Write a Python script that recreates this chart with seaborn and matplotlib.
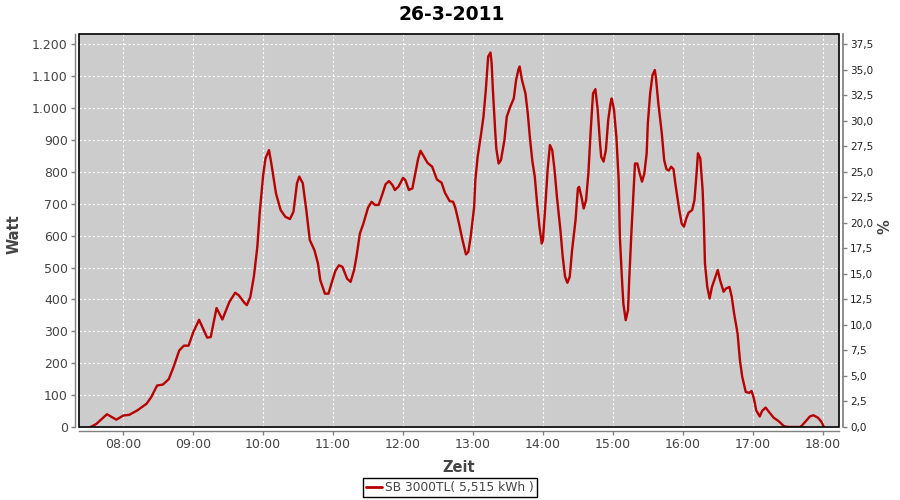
import matplotlib
matplotlib.use("Agg")
import matplotlib.pyplot as plt
import matplotlib.dates as mdates
from matplotlib.ticker import FuncFormatter, MultipleLocator
from matplotlib.patches import Rectangle
from matplotlib.lines import Line2D
import seaborn as sns
import pandas as pd

title = "26-3-2011"
series_name = "SB 3000TL( 5,515 kWh )"
x_label = "Zeit"
y_label = "Watt"
y2_label = "%"

times = [
    "07:32", "07:37", "07:46", "07:54", "08:00", "08:05", "08:12", "08:20", "08:24", "08:29",
    "08:34", "08:39", "08:43", "08:48", "08:52", "08:56", "09:00", "09:05", "09:08", "09:12",
    "09:15", "09:20", "09:25", "09:31", "09:36", "09:39", "09:44", "09:46", "09:49", "09:52",
    "09:55", "09:57", "10:00", "10:02", "10:05", "10:07", "10:11", "10:15", "10:19", "10:23",
    "10:26", "10:29", "10:31", "10:34", "10:37", "10:40", "10:44", "10:47", "10:49", "10:53",
    "10:56", "10:59", "11:02", "11:05", "11:08", "11:12", "11:15", "11:18", "11:20", "11:23",
    "11:26", "11:30", "11:33", "11:36", "11:39", "11:42", "11:45", "11:48", "11:51", "11:53",
    "11:56", "12:00", "12:02", "12:05", "12:08", "12:11", "12:13", "12:15", "12:18", "12:21",
    "12:25", "12:29", "12:33", "12:36", "12:40", "12:43", "12:45", "12:48", "12:51", "12:54",
    "12:56", "12:58", "13:01", "13:02", "13:04", "13:07", "13:09", "13:11", "13:13", "13:15",
    "13:16", "13:17", "13:19", "13:20", "13:22", "13:24", "13:27", "13:29", "13:32", "13:35",
    "13:37", "13:39", "13:40", "13:42", "13:45", "13:47", "13:49", "13:51", "13:53", "13:55",
    "13:57", "13:59", "14:00", "14:02", "14:04", "14:06", "14:08", "14:10", "14:12", "14:15",
    "14:17", "14:19", "14:21", "14:23", "14:25", "14:28", "14:30", "14:31", "14:33", "14:35",
    "14:37", "14:39", "14:41", "14:43", "14:45", "14:47", "14:49", "14:50", "14:52", "14:54",
    "14:56", "14:58", "14:59", "15:01", "15:03", "15:05", "15:06", "15:08", "15:09", "15:11",
    "15:13", "15:14", "15:16", "15:18", "15:19", "15:21", "15:23", "15:25", "15:27", "15:29",
    "15:30", "15:32", "15:34", "15:36", "15:37", "15:39", "15:42", "15:44", "15:46", "15:48",
    "15:50", "15:52", "15:54", "15:57", "15:59", "16:01", "16:03", "16:05", "16:08", "16:10",
    "16:12", "16:13", "16:15", "16:17", "16:18", "16:19", "16:21", "16:23", "16:25", "16:27",
    "16:30", "16:32", "16:35", "16:37", "16:40", "16:42", "16:44", "16:47", "16:49", "16:51",
    "16:54", "16:57", "16:59", "17:01", "17:03", "17:06", "17:08", "17:11", "17:14", "17:18",
    "17:22", "17:27", "17:31", "17:41", "17:45", "17:49", "17:52", "17:56", "17:59", "18:01",
]
watts = [
    0, 10, 40, 23, 36, 38, 52, 73, 94, 130,
    133, 150, 187, 240, 255, 255, 297, 336, 312, 280,
    282, 373, 337, 392, 421, 413, 389, 382, 408, 471,
    565, 670, 790, 842, 868, 826, 732, 680, 659, 652,
    675, 764, 785, 764, 680, 586, 554, 513, 460, 418,
    418, 455, 490, 507, 502, 465, 455, 492, 533, 607,
    638, 688, 706, 696, 696, 727, 761, 771, 758, 743,
    753, 781, 774, 743, 748, 805, 842, 866, 847, 828,
    816, 776, 766, 734, 708, 706, 685, 638, 586, 541,
    549, 596, 690, 774, 847, 920, 973, 1056, 1161, 1174,
    1140, 1062, 931, 873, 826, 837, 900, 973, 1004, 1030,
    1088, 1121, 1130, 1088, 1046, 983, 900, 832, 785, 701,
    628, 575, 586, 690, 805, 884, 868, 805, 722, 617,
    533, 471, 452, 471, 554, 649, 748, 753, 722, 685,
    711, 795, 930, 1046, 1059, 994, 889, 847, 832, 868,
    962, 1015, 1030, 994, 910, 774, 596, 450, 387, 335,
    366, 460, 617, 753, 826, 826, 795, 769, 795, 858,
    952, 1046, 1103, 1119, 1093, 1015, 920, 837, 808, 804,
    816, 808, 753, 680, 638, 628, 654, 672, 680, 711,
    805, 858, 842, 743, 649, 513, 439, 403, 439, 460,
    492, 460, 424, 434, 439, 408, 356, 293, 209, 157,
    110, 107, 113, 89, 52, 33, 50, 61, 47, 29,
    19, 2, 0, 0, 16, 33, 37, 29, 16, 0,
]

sns.set_theme(style="ticks")
plt.rcParams['font.family'] = ['DejaVu Sans']

day = "2011-03-26 "
df = pd.DataFrame({
    "Zeit": pd.to_datetime([day + t for t in times]),
    "Watt": watts,
})

W, H = 900, 500
fig = plt.figure(figsize=(9, 5), dpi=100)
fig.patch.set_facecolor("white")
ax = fig.add_axes([79 / W, 73 / H, 760 / W, 393 / H])
ax.set_facecolor("#cccccc")

sns.lineplot(data=df, x="Zeit", y="Watt", ax=ax, color="#b80000",
             linewidth=1.7, estimator=None, legend=False, zorder=3)

ax.set_xlim(pd.Timestamp(day + "07:22"), pd.Timestamp(day + "18:14"))
ax.set_ylim(0, 1232)
ax.xaxis.set_major_locator(mdates.HourLocator(byhour=range(8, 19)))
ax.xaxis.set_major_formatter(mdates.DateFormatter("%H:%M"))
ax.yaxis.set_major_locator(MultipleLocator(100))
ax.yaxis.set_major_formatter(FuncFormatter(lambda v, p: f"{int(round(v)):,}".replace(",", ".")))

ax.set_axisbelow(True)
ax.grid(True, color="white", linestyle=(0, (2, 2)), linewidth=0.8)

for s in ["top", "right"]:
    ax.spines[s].set_visible(False)
for s in ["left", "bottom"]:
    ax.spines[s].set_position(("outward", 3))
    ax.spines[s].set_color("#808080")
    ax.spines[s].set_linewidth(1)

ax.tick_params(axis="both", colors="#808080", labelcolor="#444444", labelsize=9,
               length=3, width=1, pad=2)

ax.set_xlabel(x_label, fontsize=10.5, fontweight="bold", color="#444444")
ax.set_ylabel(y_label, fontsize=10.5, fontweight="bold", color="#444444")
ax.xaxis.set_label_coords(0.5, -0.084)
ax.yaxis.set_label_coords(-0.076, 0.49)

ax2 = ax.twinx()
ax2.set_ylim(0, 1232 / 32)
ax2.yaxis.set_major_locator(MultipleLocator(2.5))
ax2.yaxis.set_major_formatter(FuncFormatter(lambda v, p: f"{v:.1f}".replace(".", ",")))
for s in ["top", "left", "bottom"]:
    ax2.spines[s].set_visible(False)
ax2.spines["right"].set_position(("outward", 3))
ax2.spines["right"].set_color("#808080")
ax2.tick_params(axis="y", colors="#808080", labelcolor="#222222", labelsize=7.5,
                length=3, width=1, pad=2)
ax2.set_ylabel(y2_label, fontsize=10.5, fontweight="bold", color="#444444", rotation=90)
ax2.yaxis.set_label_coords(1.05, 0.51)

border = Rectangle((0, 0), 1, 1, transform=ax.transAxes, fill=False,
                   edgecolor="black", linewidth=1.2, zorder=10, clip_on=False)
ax2.add_patch(border)

fig.text(0.502, 0.972, title, ha="center", va="center", fontsize=13.5,
         fontweight="bold", color="black")

handle = Line2D([0], [0], color="#b80000", linewidth=2)
leg = fig.legend(handles=[handle], labels=[series_name], loc="center",
                 bbox_to_anchor=(0.5, 0.025), frameon=True, fancybox=False,
                 edgecolor="black", framealpha=1, fontsize=8.8, handlelength=1.3,
                 handletextpad=0.3, borderpad=0.25, borderaxespad=0)
leg.get_frame().set_linewidth(1)
for t in leg.get_texts():
    t.set_color("#444444")

fig.savefig("out.png", dpi=100)
